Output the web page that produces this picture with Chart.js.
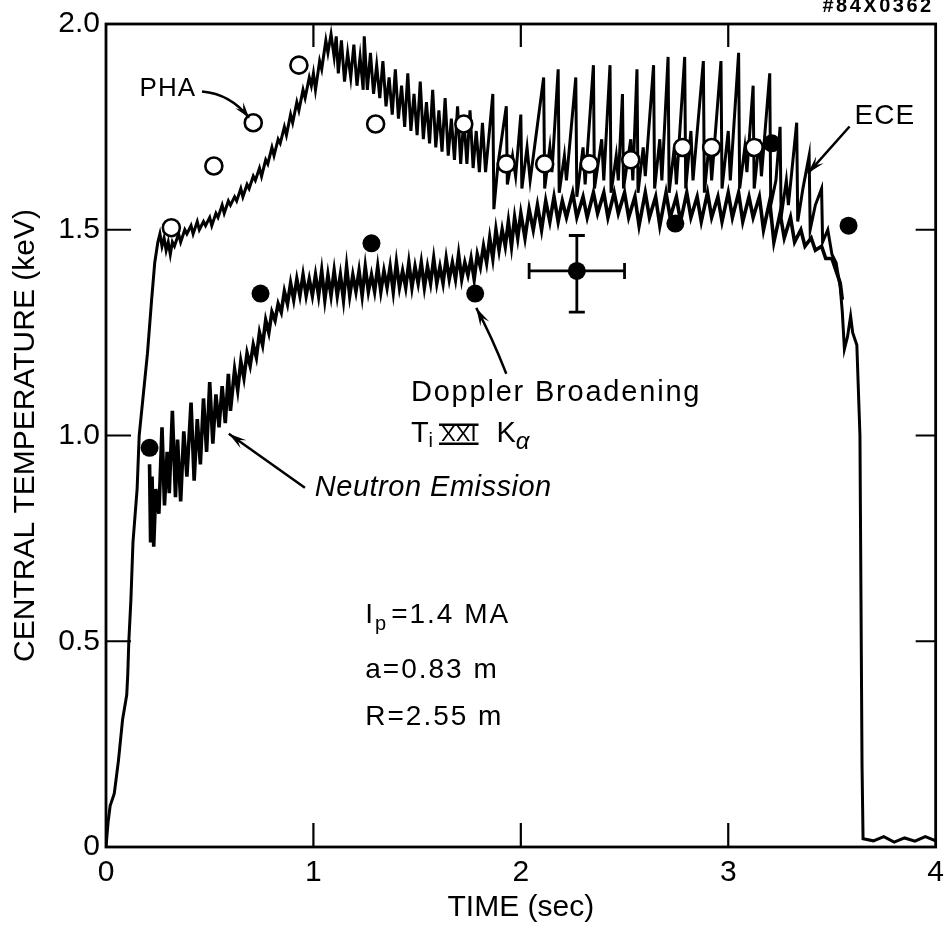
<!DOCTYPE html>
<html>
<head>
<meta charset="utf-8">
<script src="https://cdn.jsdelivr.net/npm/chart.js@4.4.1/dist/chart.umd.min.js"></script>
<style>
  html, body { margin: 0; padding: 0; background: #fff; }
  #wrap { position: relative; width: 952px; height: 929px; }
</style>
</head>
<body>
<div id="wrap"><canvas id="chart"></canvas></div>
<script>
const FONT = '"Liberation Sans", Arial, sans-serif';

// axis ticks
const xTicks = [0, 1, 2, 3, 4];
const xTickLabels = ['0', '1', '2', '3', '4'];
const yTicks = [0, 0.5, 1.0, 1.5, 2.0];
const yTickLabels = ['0', '0.5', '1.0', '1.5', '2.0'];

// ECE electron temperature trace [time s, keV]
const ece = [
  [0,0],[0.01,0.06],[0.02,0.1],[0.04,0.13],[0.05,0.17],[0.06,0.21],[0.08,0.31],[0.1,0.37],[0.105,0.42],
  [0.11,0.5],[0.12,0.6],[0.13,0.74],[0.15,0.87],[0.16,1.0],[0.18,1.1],[0.2,1.2],[0.22,1.33],[0.235,1.42],
  [0.25,1.47],[0.26,1.49],[0.27,1.46],[0.28,1.48],[0.29,1.45],[0.3,1.47],[0.31,1.44],[0.32,1.47],[0.33,1.46],
  [0.35,1.49],[0.36,1.47],[0.38,1.5],[0.39,1.49],[0.41,1.51],[0.42,1.49],[0.44,1.52],[0.45,1.5],[0.47,1.52],
  [0.48,1.51],[0.5,1.53],[0.51,1.51],[0.53,1.54],[0.54,1.53],[0.56,1.56],[0.57,1.54],[0.59,1.57],[0.6,1.56],
  [0.62,1.58],[0.63,1.57],[0.65,1.6],[0.66,1.58],[0.68,1.61],[0.69,1.6],[0.71,1.63],[0.72,1.62],[0.74,1.65],
  [0.75,1.63],[0.77,1.67],[0.78,1.66],[0.8,1.7],[0.81,1.68],[0.83,1.72],[0.84,1.71],[0.86,1.75],[0.87,1.73],
  [0.89,1.78],[0.9,1.76],[0.92,1.81],[0.93,1.79],[0.95,1.84],[0.96,1.82],[0.98,1.87],[0.99,1.85],[1.0,1.88],
  [1.01,1.84],[1.03,1.91],[1.04,1.89],[1.06,1.96],[1.07,1.93],[1.085,1.975],[1.1,1.92],[1.11,1.97],
  [1.12,1.88],[1.135,1.96],[1.15,1.86],[1.165,1.93],[1.18,1.87],[1.195,1.95],[1.21,1.85],[1.225,1.92],[1.24,1.84],
  [1.245,1.97],[1.26,1.84],[1.275,1.93],[1.29,1.83],[1.305,1.9],[1.32,1.82],[1.335,1.91],[1.35,1.8],[1.365,1.87],
  [1.38,1.78],[1.395,1.89],[1.41,1.77],[1.425,1.85],[1.44,1.75],[1.455,1.88],[1.47,1.74],[1.485,1.83],[1.5,1.73],
  [1.515,1.86],[1.53,1.72],[1.545,1.81],[1.56,1.71],[1.575,1.84],[1.59,1.7],[1.605,1.79],[1.62,1.69],[1.635,1.82],
  [1.65,1.68],[1.665,1.77],[1.68,1.67],[1.695,1.8],[1.71,1.66],[1.725,1.77],[1.74,1.66],[1.755,1.79],[1.77,1.65],
  [1.785,1.74],[1.8,1.64],[1.815,1.76],[1.83,1.64],[1.845,1.72],[1.865,1.83],[1.87,1.55],[1.89,1.66],
  [1.93,1.8],[1.935,1.61],[1.96,1.68],[1.975,1.63],[2.0,1.78],[2.005,1.6],[2.03,1.7],[2.045,1.62],
  [2.11,1.87],[2.115,1.6],[2.14,1.7],[2.15,1.64],[2.18,1.89],[2.185,1.59],[2.21,1.68],[2.22,1.62],
  [2.265,1.87],[2.27,1.58],[2.3,1.7],[2.31,1.61],[2.35,1.9],[2.355,1.6],[2.39,1.72],[2.4,1.62],
  [2.43,1.9],[2.435,1.59],[2.46,1.68],[2.47,1.62],[2.49,1.83],[2.495,1.6],[2.53,1.72],[2.54,1.62],
  [2.56,1.89],[2.565,1.59],[2.59,1.7],[2.6,1.63],[2.64,1.9],[2.645,1.6],[2.67,1.72],[2.68,1.62],
  [2.71,1.92],[2.715,1.59],[2.74,1.7],[2.75,1.61],[2.79,1.92],[2.795,1.6],[2.82,1.74],[2.83,1.62],
  [2.88,1.91],[2.885,1.59],[2.91,1.72],[2.92,1.62],[2.965,1.91],[2.97,1.6],[3.0,1.74],[3.01,1.62],
  [3.05,1.93],[3.055,1.6],[3.08,1.7],[3.09,1.64],[3.12,1.85],[3.125,1.6],[3.15,1.72],[3.16,1.63],
  [3.2,1.88],[3.205,1.56],[3.23,1.62],[3.25,1.75],[3.255,1.53],[3.28,1.62],[3.29,1.56],[3.33,1.76],
  [3.335,1.52],[3.36,1.6],[3.39,1.68],[3.395,1.5],[3.42,1.56],[3.45,1.6],[3.455,1.47],[3.48,1.5],
  [3.5,1.44],[3.52,1.42],[3.54,1.36],[3.55,1.3],[3.56,1.21],[3.575,1.24],[3.59,1.29],[3.6,1.25],
  [3.62,1.22],[3.635,1.0],[3.64,0.6],[3.645,0.2],[3.65,0.02],[3.7,0.015],[3.75,0.025],[3.8,0.012],
  [3.85,0.022],[3.9,0.014],[3.95,0.025],[4.0,0.015]
];

// ion temperature from neutron emission [time s, keV]
const neutron = [
  [0.21,0.93],[0.215,0.74],[0.222,0.9],[0.23,0.73],[0.24,0.87],[0.255,0.81],[0.27,1.02],[0.282,0.83],
  [0.295,0.96],[0.305,0.86],[0.32,1.06],[0.335,0.85],[0.345,0.99],[0.36,0.84],[0.375,1.01],[0.39,0.9],
  [0.41,1.08],[0.425,0.89],[0.44,1.04],[0.455,0.93],[0.47,1.09],[0.485,0.96],[0.5,1.13],[0.515,0.98],
  [0.53,1.1],[0.545,1.02],[0.56,1.12],[0.575,1.03],[0.59,1.15],[0.6,1.06],[0.62,1.16],[0.635,1.11],
  [0.65,1.18],[0.665,1.14],[0.68,1.2],[0.695,1.17],[0.71,1.22],[0.725,1.19],[0.74,1.25],[0.755,1.22],
  [0.77,1.28],[0.785,1.25],[0.8,1.3],[0.815,1.28],[0.83,1.32],[0.845,1.3],[0.86,1.35],[0.875,1.32],
  [0.89,1.37],[0.905,1.33],[0.92,1.38],[0.935,1.34],[0.95,1.39],[0.965,1.34],[0.98,1.38],[0.995,1.34],
  [1.01,1.39],[1.025,1.34],[1.04,1.4],[1.055,1.33],[1.07,1.39],[1.085,1.34],[1.1,1.4],[1.115,1.34],
  [1.13,1.39],[1.145,1.33],[1.16,1.41],[1.175,1.34],[1.19,1.39],[1.205,1.35],[1.22,1.4],[1.235,1.34],
  [1.25,1.41],[1.265,1.35],[1.28,1.39],[1.295,1.35],[1.31,1.41],[1.325,1.35],[1.34,1.4],[1.355,1.36],
  [1.37,1.41],[1.385,1.35],[1.4,1.42],[1.415,1.36],[1.43,1.4],[1.445,1.36],[1.46,1.42],[1.475,1.36],
  [1.49,1.41],[1.505,1.37],[1.52,1.42],[1.535,1.36],[1.55,1.41],[1.565,1.37],[1.58,1.43],[1.595,1.37],
  [1.61,1.41],[1.625,1.37],[1.64,1.43],[1.655,1.38],[1.67,1.42],[1.685,1.38],[1.7,1.44],[1.715,1.38],
  [1.73,1.42],[1.745,1.39],[1.76,1.43],[1.775,1.38],[1.79,1.44],[1.805,1.41],[1.82,1.46],[1.835,1.42],
  [1.85,1.48],[1.865,1.43],[1.88,1.5],[1.895,1.45],[1.91,1.5],[1.925,1.46],[1.94,1.52],[1.955,1.46],
  [1.97,1.53],[1.985,1.48],[2.0,1.54],[2.02,1.48],[2.04,1.55],[2.06,1.5],[2.08,1.56],[2.1,1.5],
  [2.12,1.57],[2.14,1.52],[2.16,1.58],[2.18,1.52],[2.2,1.57],[2.22,1.53],[2.25,1.59],[2.27,1.53],
  [2.3,1.58],[2.32,1.53],[2.35,1.59],[2.37,1.54],[2.4,1.59],[2.42,1.53],[2.45,1.59],[2.47,1.54],
  [2.5,1.59],[2.52,1.53],[2.55,1.58],[2.57,1.51],[2.6,1.59],[2.62,1.53],[2.65,1.58],[2.67,1.51],
  [2.7,1.59],[2.72,1.53],[2.75,1.58],[2.77,1.52],[2.8,1.59],[2.82,1.53],[2.85,1.58],[2.87,1.52],
  [2.9,1.59],[2.92,1.53],[2.95,1.58],[2.97,1.52],[3.0,1.59],[3.02,1.53],[3.05,1.59],[3.07,1.52],
  [3.1,1.58],[3.12,1.53],[3.15,1.58],[3.17,1.5],[3.2,1.57],[3.22,1.47],[3.25,1.54],[3.27,1.48],
  [3.3,1.53],[3.32,1.47],[3.35,1.5],[3.37,1.46],[3.4,1.48],[3.42,1.45],[3.45,1.46],[3.47,1.43],
  [3.5,1.43],[3.52,1.4],[3.54,1.37],[3.55,1.33]
];

// PHA (open circles)
const phaTime = [0.315, 0.52, 0.71, 0.93, 1.30, 1.725, 1.93, 2.115, 2.33, 2.53, 2.78, 2.92, 3.125];
const phaTemp = [1.505, 1.655, 1.76, 1.90, 1.757, 1.757, 1.66, 1.66, 1.66, 1.67, 1.70, 1.70, 1.70];

// Doppler broadening Ti XXI K-alpha (filled circles)
const dopTime = [0.21, 0.745, 1.28, 1.78, 2.27, 2.745, 3.21, 3.58];
const dopTemp = [0.97, 1.345, 1.467, 1.345, 1.40, 1.515, 1.71, 1.51];
// error bar on the 2.27 s point
const errTime = [2.04, 2.50];
const errTemp = [1.30, 1.486];

const toXY = arr => arr.map(p => ({ x: p[0], y: p[1] }));

function arrow(ctx, pts, head) {
  ctx.beginPath();
  ctx.moveTo(pts[0][0], pts[0][1]);
  if (pts.length === 3) ctx.quadraticCurveTo(pts[1][0], pts[1][1], pts[2][0], pts[2][1]);
  else ctx.lineTo(pts[1][0], pts[1][1]);
  ctx.stroke();
  const e = pts[pts.length - 1], s = pts[pts.length - 2];
  const a = Math.atan2(e[1] - s[1], e[0] - s[0]);
  const c = Math.cos(a), sn = Math.sin(a);
  ctx.beginPath();
  ctx.moveTo(e[0], e[1]);
  ctx.lineTo(e[0] - head * c + 5 * sn, e[1] - head * sn - 5 * c);
  ctx.lineTo(e[0] - 0.6 * head * c, e[1] - 0.6 * head * sn);
  ctx.lineTo(e[0] - head * c - 5 * sn, e[1] - head * sn + 5 * c);
  ctx.closePath();
  ctx.fill();
}

// draw a run of text pieces: [text, font, dy, gapAfter]
function runText(ctx, x, y, parts, spacing) {
  ctx.letterSpacing = (spacing || 0) + 'px';
  parts.forEach(p => {
    ctx.font = p[1];
    ctx.fillText(p[0], x, y + (p[2] || 0));
    x += ctx.measureText(p[0]).width + (p[3] || 0);
  });
  ctx.letterSpacing = '0px';
  return x;
}

const decorations = {
  id: 'decorations',
  afterDatasetsDraw(chart) {
    const { ctx, chartArea: a, scales: { x, y } } = chart;
    const px = t => x.getPixelForValue(t);
    const py = v => y.getPixelForValue(v);
    ctx.save();
    ctx.strokeStyle = '#000';
    ctx.fillStyle = '#000';

    // frame and inward ticks
    ctx.lineWidth = 2.8;
    ctx.strokeRect(a.left, a.top, a.right - a.left, a.bottom - a.top);
    ctx.lineWidth = 2.2;
    ctx.beginPath();
    xTicks.slice(1, -1).forEach(t => {
      ctx.moveTo(px(t), a.bottom); ctx.lineTo(px(t), a.bottom - 24);
      ctx.moveTo(px(t), a.top); ctx.lineTo(px(t), a.top + 23);
    });
    yTicks.slice(1, -1).forEach(v => {
      ctx.moveTo(a.left, py(v)); ctx.lineTo(a.left + 25, py(v));
      ctx.moveTo(a.right, py(v)); ctx.lineTo(a.right - 20, py(v));
    });
    ctx.stroke();

    // error bar
    const ex = px(dopTime[4]), ey = py(dopTemp[4]);
    ctx.lineWidth = 2.8;
    ctx.beginPath();
    ctx.moveTo(px(errTime[0]), ey); ctx.lineTo(px(errTime[1]), ey);
    ctx.moveTo(px(errTime[0]), ey - 8); ctx.lineTo(px(errTime[0]), ey + 8);
    ctx.moveTo(px(errTime[1]), ey - 8); ctx.lineTo(px(errTime[1]), ey + 8);
    ctx.moveTo(ex, py(errTemp[0])); ctx.lineTo(ex, py(errTemp[1]));
    ctx.moveTo(ex - 8, py(errTemp[0])); ctx.lineTo(ex + 8, py(errTemp[0]));
    ctx.moveTo(ex - 8, py(errTemp[1])); ctx.lineTo(ex + 8, py(errTemp[1]));
    ctx.stroke();

    // arrows
    ctx.lineWidth = 2.5;
    const P = p => [px(p[0]), py(p[1])];
    arrow(ctx, [[0.463, 1.836], [0.60, 1.83], [0.69, 1.772]].map(P), 16);
    arrow(ctx, [[3.585, 1.751], [3.384, 1.637]].map(P), 18);
    arrow(ctx, [[1.93, 1.15], [1.86, 1.24], [1.785, 1.31]].map(P), 18);
    arrow(ctx, [[0.959, 0.873], [0.592, 1.004]].map(P), 18);

    // labels
    ctx.textBaseline = 'middle';
    ctx.textAlign = 'left';
    runText(ctx, px(0.162), py(1.843), [['PHA', '26px ' + FONT]], 1);
    runText(ctx, px(3.609), py(1.776), [['ECE', '28px ' + FONT]], 1);
    runText(ctx, px(1.47), py(1.104), [['Doppler Broadening', '29px ' + FONT]], 1.8);

    // Ti XXI K alpha
    let tx = px(1.47), ty = py(1.004);
    tx = runText(ctx, tx, ty, [['T', '29px ' + FONT], ['i', '20px ' + FONT, 8, 8]]);
    ctx.font = '22px ' + FONT;
    const xw = ctx.measureText('XXI').width;
    ctx.fillText('XXI', tx, ty + 1);
    ctx.lineWidth = 2.5;
    ctx.beginPath();
    ctx.moveTo(tx - 2, ty - 9); ctx.lineTo(tx + xw + 2, ty - 9);
    ctx.moveTo(tx - 2, ty + 10); ctx.lineTo(tx + xw + 2, ty + 10);
    ctx.stroke();
    runText(ctx, tx + xw + 20, ty, [['K', '29px ' + FONT], ['α', 'italic 24px ' + FONT, 8]]);

    runText(ctx, px(1.007), py(0.873), [['Neutron Emission', 'italic 29px ' + FONT]], 0.5);

    // plasma parameters
    runText(ctx, px(1.25), py(0.563), [['I', '28px ' + FONT], ['p', '20px ' + FONT, 9, 3], ['=1.4 MA', '28px ' + FONT]], 2);
    runText(ctx, px(1.25), py(0.429), [['a=0.83 m', '28px ' + FONT]], 2);
    runText(ctx, px(1.25), py(0.315), [['R=2.55 m', '28px ' + FONT]], 2);

    // figure number
    ctx.textAlign = 'right';
    runText(ctx, a.right - 2, 6, [['#84X0362', 'bold 20px ' + FONT]], 2.5);
    ctx.restore();
  }
};

new Chart(document.getElementById('chart'), {
  type: 'scatter',
  data: {
    datasets: [
      {
        label: 'PHA',
        data: phaTime.map((t, i) => ({ x: t, y: phaTemp[i] })),
        pointRadius: 8.5, pointBorderWidth: 2.6,
        pointBackgroundColor: '#fff', pointBorderColor: '#000'
      },
      {
        label: 'Doppler Broadening',
        data: dopTime.map((t, i) => ({ x: t, y: dopTemp[i] })),
        pointRadius: 9, pointBorderWidth: 0,
        pointBackgroundColor: '#000', pointBorderColor: '#000'
      },
      {
        label: 'ECE',
        data: toXY(ece),
        showLine: true, pointRadius: 0, borderWidth: 3,
        borderColor: '#000', tension: 0
      },
      {
        label: 'Neutron Emission',
        data: toXY(neutron),
        showLine: true, pointRadius: 0, borderWidth: 3.6,
        borderColor: '#000', tension: 0
      }
    ]
  },
  options: {
    responsive: true,
    maintainAspectRatio: false,
    animation: false,
    layout: { padding: { top: 22, right: 8, bottom: 0, left: 0 } },
    plugins: { legend: { display: false }, tooltip: { enabled: false } },
    scales: {
      x: {
        type: 'linear', min: 0, max: 4,
        afterFit: s => { s.height = 82; },
        afterBuildTicks: s => { s.ticks = xTicks.map(v => ({ value: v })); },
        grid: { display: false, drawTicks: false },
        border: { display: false },
        ticks: {
          color: '#000', padding: 8, maxRotation: 0,
          font: { family: FONT, size: 30 },
          callback: (v, i) => xTickLabels[i]
        },
        title: {
          display: true, text: 'TIME (sec)', color: '#000',
          font: { family: FONT, size: 30 }, padding: { top: 0, bottom: 3 }
        }
      },
      y: {
        type: 'linear', min: 0, max: 2,
        afterFit: s => { s.width = 106; },
        afterBuildTicks: s => { s.ticks = yTicks.map(v => ({ value: v })); },
        grid: { display: false, drawTicks: false },
        border: { display: false },
        ticks: {
          color: '#000', padding: 6,
          font: { family: FONT, size: 30 },
          callback: (v, i) => yTickLabels[i]
        },
        title: {
          display: true, text: 'CENTRAL TEMPERATURE (keV)', color: '#000',
          font: { family: FONT, size: 30 }, padding: { top: 8, bottom: 0 }
        }
      }
    }
  },
  plugins: [decorations]
});
</script>
</body>
</html>
